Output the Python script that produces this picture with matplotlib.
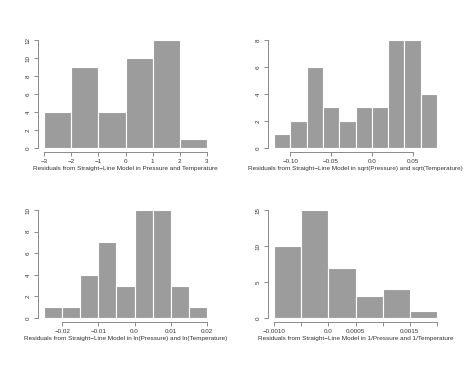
import matplotlib
matplotlib.use("Agg")
import matplotlib.pyplot as plt
import numpy as np

plt.rcParams['font.family'] = ['Liberation Sans', 'DejaVu Sans']

# Panel 1
breaks1 = [-3, -2, -1, 0, 1, 2, 3]
counts1 = [4, 9, 4, 10, 12, 1]
xticks1 = [-3, -2, -1, 0, 1, 2, 3]
xlabels1 = ["\u22123", "\u22122", "\u22121", "0", "1", "2", "3"]
yticks1 = [0, 2, 4, 6, 8, 10, 12]
title1 = "Residuals from Straight\u2212Line Model in Pressure and Temperature"

# Panel 2
breaks2 = [-0.12, -0.10, -0.08, -0.06, -0.04, -0.02, 0.0, 0.02, 0.04, 0.06, 0.08]
counts2 = [1, 2, 6, 3, 2, 3, 3, 8, 8, 4]
xticks2 = [-0.10, -0.05, 0.0, 0.05]
xlabels2 = ["\u22120.10", "\u22120.05", "0.0", "0.05"]
yticks2 = [0, 2, 4, 6, 8]
title2 = "Residuals from Straight\u2212Line Model in sqrt(Pressure) and sqrt(Temperature)"

# Panel 3
breaks3 = [-0.025, -0.02, -0.015, -0.01, -0.005, 0.0, 0.005, 0.01, 0.015, 0.02]
counts3 = [1, 1, 4, 7, 3, 10, 10, 3, 1]
xticks3 = [-0.02, -0.01, 0.0, 0.01, 0.02]
xlabels3 = ["\u22120.02", "\u22120.01", "0.0", "0.01", "0.02"]
yticks3 = [0, 2, 4, 6, 8, 10]
title3 = "Residuals from Straight\u2212Line Model in ln(Pressure) and ln(Temperature)"

# Panel 4
breaks4 = [-0.0010, -0.0005, 0.0, 0.0005, 0.0010, 0.0015, 0.0020]
counts4 = [10, 15, 7, 3, 4, 1]
xticks4 = [-0.0010, -0.0005, 0.0, 0.0005, 0.0010, 0.0015, 0.0020]
xlabels4 = ["\u22120.0010", "", "0.0", "0.0005", "", "0.0015", ""]
yticks4 = [0, 5, 10, 15]
title4 = "Residuals from Straight\u2212Line Model in 1/Pressure and 1/Temperature"

W, H = 474, 366
fig = plt.figure(figsize=(W / 100, H / 100), dpi=100)

bar_color = "#9c9c9c"
axis_color = "#8a8a8a"
text_color = "#333333"

panels = [
    (breaks1, counts1, xticks1, xlabels1, yticks1, title1, (37.5, 35.7)),
    (breaks2, counts2, xticks2, xlabels2, yticks2, title2, (267.5, 35.7)),
    (breaks3, counts3, xticks3, xlabels3, yticks3, title3, (37.5, 205.7)),
    (breaks4, counts4, xticks4, xlabels4, yticks4, title4, (267.5, 205.7)),
]
pw, ph = 176, 116.6

for breaks, counts, xt, xl, yt, title, (px, py) in panels:
    ax = fig.add_axes([px / W, 1 - (py + ph) / H, pw / W, ph / H])
    b = np.array(breaks)
    ax.bar(b[:-1], counts, width=np.diff(b), align='edge', color=bar_color,
           edgecolor='white', linewidth=0.8)
    xr = b[-1] - b[0]
    ax.set_xlim(b[0] - 0.04 * xr, b[-1] + 0.04 * xr)
    ymax = max(counts)
    ax.set_ylim(-0.04 * ymax, ymax * 1.04)
    for s in ['top', 'right']:
        ax.spines[s].set_visible(False)
    for s in ['left', 'bottom']:
        ax.spines[s].set_color(axis_color)
        ax.spines[s].set_linewidth(0.7)
    ax.spines['bottom'].set_bounds(xt[0], xt[-1])
    ax.spines['left'].set_bounds(yt[0], yt[-1])
    ax.set_xticks(xt)
    ax.set_xticklabels(xl)
    ax.set_yticks(yt)
    ax.set_yticklabels([str(v) for v in yt], rotation=90, va='center')
    ax.tick_params(axis='both', colors=axis_color, labelcolor=text_color,
                   labelsize=4.5, length=3, width=0.7, pad=2)
    ax.set_xlabel(title, fontsize=4.6, color=text_color, labelpad=1.5)

fig.savefig("out.png", dpi=100)
